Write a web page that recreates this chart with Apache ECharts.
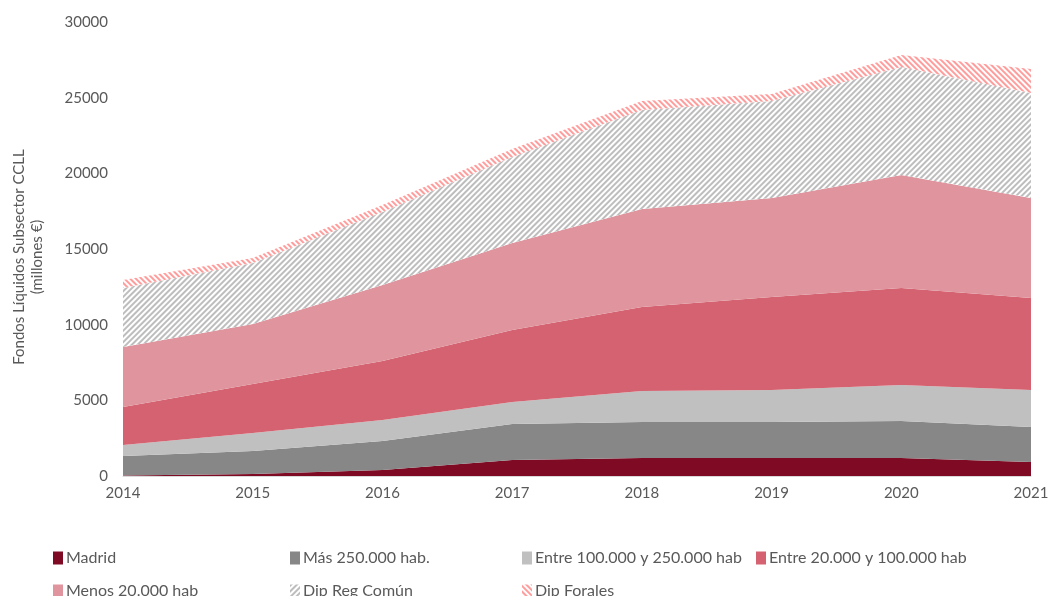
<!DOCTYPE html>
<html>
<head>
<meta charset="utf-8">
<script src="https://cdn.jsdelivr.net/npm/echarts@6/dist/echarts.min.js"></script>
<style>
  html, body { margin: 0; padding: 0; background: #fff; }
  #chart { width: 1050px; height: 596px; }
</style>
</head>
<body>
<div id="chart"></div>
<script>
const years = ["2014", "2015", "2016", "2017", "2018", "2019", "2020", "2021"]
const yTicks = { min: 0, max: 30000, interval: 5000 }

const madrid = [30, 130, 400, 1060, 1190, 1190, 1190, 925]
const mas250 = [1290, 1520, 1910, 2380, 2380, 2380, 2440, 2315]
const entre100 = [730, 1190, 1390, 1450, 2050, 2110, 2380, 2440]
const entre20 = [2510, 3240, 3900, 4760, 5550, 6150, 6410, 6080]
const menos20 = [3965, 3960, 5020, 5750, 6470, 6540, 7470, 6610]
const dipRegComun = [3895, 4035, 4830, 5680, 6550, 6410, 7140, 6940]
const dipForales = [530, 325, 450, 530, 590, 460, 790, 1580]

const names = [
  "Madrid", "Más 250.000 hab.", "Entre 100.000 y 250.000 hab",
  "Entre 20.000 y 100.000 hab", "Menos 20.000 hab", "Dip Reg Común", "Dip Forales"
]
const values = [madrid, mas250, entre100, entre20, menos20, dipRegComun, dipForales]
const colors = ["#7f0a24", "#878787", "#c0c0c0", "#d46270", "#e0959e", "#ffffff", "#ffffff"]

// hatch patterns for the two "Dip" series
const hatch = [
  null, null, null, null, null,
  { symbol: "rect", color: "#bdbdbd", dashArrayX: [1, 0], dashArrayY: [1.2, 1.5], rotation: -Math.PI / 4 },
  { symbol: "rect", color: "#ff9c9c", dashArrayX: [1, 0], dashArrayY: [2, 2], rotation: Math.PI / 4 }
]

// legend slots (left, top) laid out like the original
const legendPos = [
  [48, 553], [285, 553], [517, 553], [751, 553],
  [48, 586], [285, 586], [517, 586]
]

const font = "Lato, 'Open Sans', sans-serif"
const myChart = echarts.init(document.getElementById("chart"))

const option = {
  animation: false,
  color: colors,
  grid: { left: 123, right: 19, top: 22, bottom: 120, containLabel: false, outerBoundsMode: "none" },
  legend: names.map((n, i) => ({
    data: [n],
    left: legendPos[i][0],
    top: legendPos[i][1] - 8,
    icon: "rect",
    itemWidth: 10,
    itemHeight: 13,
    itemGap: 4,
    selectedMode: false,
    textStyle: { color: "#595959", fontSize: 16, fontFamily: font, padding: [0, 0, 0, -2] }
  })),
  xAxis: {
    type: "category",
    data: years,
    boundaryGap: false,
    axisLine: { lineStyle: { color: "#d9d9d9", width: 1 } },
    axisTick: { show: false },
    axisLabel: { color: "#595959", fontSize: 15, fontFamily: font, margin: 10 }
  },
  yAxis: {
    type: "value",
    min: yTicks.min,
    max: yTicks.max,
    interval: yTicks.interval,
    name: "Fondos Líquidos Subsector CCLL\n(millones €)",
    nameLocation: "middle",
    nameGap: 77,
    nameTextStyle: { color: "#595959", fontSize: 15, fontFamily: font, lineHeight: 18, padding: [0, 16, 0, 0] },
    axisLine: { show: false },
    axisTick: { show: false },
    splitLine: { show: false },
    axisLabel: { color: "#595959", fontSize: 15, fontFamily: font, margin: 15, formatter: (v) => String(v) }
  },
  series: names.map((n, i) => ({
    name: n,
    type: "line",
    stack: "total",
    data: values[i],
    symbol: "none",
    lineStyle: { width: 0 },
    itemStyle: { color: colors[i], decal: hatch[i] || undefined },
    areaStyle: { color: colors[i], opacity: 1 }
  }))
}

myChart.setOption(option)
</script>
</body>
</html>
